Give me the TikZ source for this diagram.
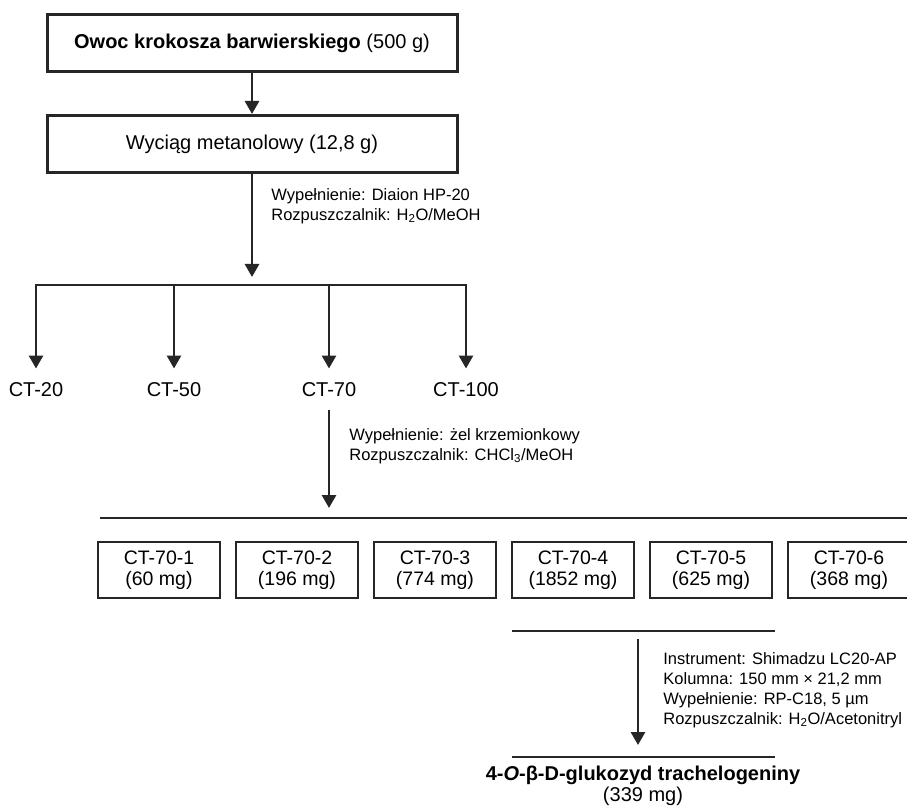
\documentclass[tikz,border=0pt]{standalone}
\usepackage{fontspec}
\setmainfont{Liberation Sans}
\usetikzlibrary{arrows.meta}
\definecolor{linegray}{HTML}{262626}

\begin{document}
\begin{tikzpicture}[x=1pt,y=-1pt,
  line width=2.8pt, draw=linegray,
  arr/.style={-{Triangle[width=14pt,length=13pt]}, draw=linegray, line width=2.8pt},
  mainbox/.style={draw=linegray, line width=3pt, minimum width=410pt, minimum height=57pt,
    inner sep=0pt, font=\fontsize{20}{24}\selectfont},
  fracbox/.style={draw=linegray, line width=2.8pt, minimum width=122pt, minimum height=56pt,
    inner sep=0pt, align=center, font=\fontsize{19.5}{21}\selectfont},
  ctlabel/.style={inner sep=2pt, font=\fontsize{20}{24}\selectfont},
  note/.style={anchor=west, align=left, inner sep=0pt, font=\fontsize{16.5}{20}\selectfont}]
  \useasboundingbox (0,0) rectangle (907,810);

  \node[mainbox] (owoc) at (252,43.5) {\textbf{Owoc krokosza barwierskiego} (500 g)};
  \node[mainbox] (wyciag) at (252,144) {Wyciąg metanolowy (12,8 g)};
  \draw[arr] (owoc) -- (wyciag);

  \coordinate (split1) at (252,277);
  \draw[arr] (wyciag) -- (split1);
  \node[note] (hp20) at (270,206) {Wypełnienie: Diaion HP-20\\Rozpuszczalnik: H\textsubscript{2}O/MeOH};

  \foreach \n/\x in {20/36,50/174,70/329,100/466} {
    \coordinate (bar\n) at (\x,285);
    \node[ctlabel] (ct\n) at (\x,390) {CT-\n};
    \draw[arr, shorten >=11pt] (bar\n) -- (ct\n.north);
  }
  \draw[line cap=rect] (bar20) -- (bar100);

  \coordinate (split2) at (329,508);
  \draw[arr, shorten <=10pt] (ct70.south) -- (split2);
  \node[note] (silica) at (348,446) {Wypełnienie: żel krzemionkowy\\Rozpuszczalnik: CHCl\textsubscript{3}/MeOH};

  \coordinate (fracl) at (100,518);
  \coordinate (fracr) at (915,518);
  \draw (fracl) -- (fracr);

  \foreach \i/\m in {1/60,2/196,3/774,4/1852,5/625,6/368}
    \node[fracbox] (ct70-\i) at ({159+138*(\i-1)},570) {CT-70-\i\\(\m~mg)};

  \coordinate (hplcl) at (512,631);
  \coordinate (hplcr) at (775,631);
  \draw (hplcl) -- (hplcr);
  \coordinate (hplc) at (638,639);
  \coordinate (prodtop) at (638,745);
  \draw[arr] (hplc) -- (prodtop);
  \node[note] (lc20) at (662,690) {Instrument: Shimadzu LC20-AP\\Kolumna: 150 mm × 21,2 mm\\Wypełnienie: RP-C18, 5 µm\\Rozpuszczalnik: H\textsubscript{2}O/Acetonitryl};

  \coordinate (prodl) at (512,757);
  \coordinate (prodr) at (775,757);
  \draw (prodl) -- (prodr);
  \node[align=center, inner sep=0pt, font=\fontsize{20}{21}\selectfont] (glukozyd) at (643,786)
    {\textbf{4-\textit{O}-β-D-glukozyd trachelogeniny}\\(339 mg)};
\end{tikzpicture}
\end{document}
